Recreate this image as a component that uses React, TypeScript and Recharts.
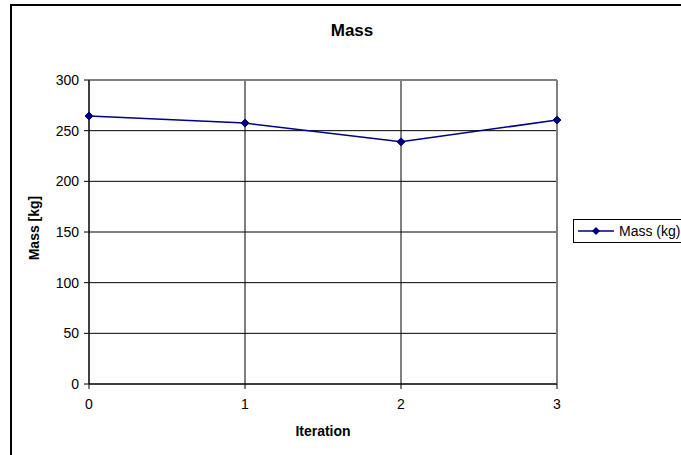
import {
  LineChart,
  Line,
  XAxis,
  YAxis,
  CartesianGrid,
  ReferenceLine,
  Label,
} from "recharts";

const iterations = [0, 1, 2, 3];
const massKg = [264.5, 257.5, 239, 260.5];
const yTicks = [0, 50, 100, 150, 200, 250, 300];

const data = iterations.map((it, i) => ({ iteration: it, mass: massKg[i] }));

const FONT = "Arial, 'Liberation Sans', sans-serif";
const NAVY = "#000080";

function Diamond(props: any) {
  const { cx, cy } = props;
  if (cx == null || cy == null) return null;
  const r = 4;
  return (
    <polygon
      points={`${cx},${cy - r} ${cx + r},${cy} ${cx},${cy + r} ${cx - r},${cy}`}
      fill={NAVY}
      stroke={NAVY}
    />
  );
}

function LegendBox() {
  return (
    <div
      style={{
        position: "absolute",
        left: 573,
        top: 219,
        border: "1px solid #000",
        width: 130,
        height: 22,
        display: "flex",
        alignItems: "center",
        fontFamily: FONT,
        fontSize: 14,
        background: "#fff",
      }}
    >
      <svg width={40} height={10} style={{ marginLeft: 4 }}>
        <line x1={0} y1={5} x2={36} y2={5} stroke={NAVY} strokeWidth={1.5} />
        <polygon points="18,1 22,5 18,9 14,5" fill={NAVY} />
      </svg>
      <span style={{ marginLeft: 1 }}>Mass (kg)</span>
    </div>
  );
}

function YTitle(props: any) {
  const { viewBox } = props;
  const x = viewBox.x + 6;
  const y = viewBox.y + viewBox.height / 2 - 4;
  return (
    <text
      x={x}
      y={y}
      transform={`rotate(-90 ${x} ${y})`}
      textAnchor="middle"
      dominantBaseline="central"
      fontFamily={FONT}
      fontSize={14}
      fontWeight="bold"
      fill="#000"
    >
      Mass [kg]
    </text>
  );
}

export default function App() {
  return (
    <div
      style={{
        position: "fixed",
        left: 0,
        top: 0,
        width: 681,
        height: 455,
        overflow: "hidden",
        background: "#fff",
      }}
    >
      {/* chart frame, runs past the right and bottom edge */}
      <div
        style={{
          position: "absolute",
          left: 10,
          top: 4,
          width: 700,
          height: 470,
          border: "1px solid #000",
          borderLeftWidth: 2,
          borderTopWidth: 2,
        }}
      />
      <div
        style={{
          position: "absolute",
          left: 0,
          top: 21,
          width: 704,
          textAlign: "center",
          fontFamily: FONT,
          fontSize: 17,
          lineHeight: "20px",
          fontWeight: "bold",
        }}
      >
        Mass
      </div>
      <div style={{ position: "absolute", left: 0, top: 0 }}>
        <LineChart
          width={681}
          height={455}
          data={data}
          margin={{ top: 80, right: 124, bottom: 0, left: 28 }}
        >
          <CartesianGrid stroke="#000" strokeWidth={1} />
          <XAxis
            dataKey="iteration"
            type="number"
            domain={[0, 3]}
            ticks={iterations}
            stroke="#000"
            tickSize={5}
            tick={{ fontFamily: FONT, fontSize: 14, fill: "#000" }}
            tickMargin={10}
            height={71}
          >
            <Label
              value="Iteration"
              position="insideTop"
              offset={42}
              style={{
                fontFamily: FONT,
                fontSize: 14,
                fontWeight: "bold",
                fill: "#000",
              }}
            />
          </XAxis>
          <YAxis
            type="number"
            domain={[0, 300]}
            ticks={yTicks}
            width={61}
            stroke="#000"
            tickSize={5}
            tickMargin={5}
            tick={{ fontFamily: FONT, fontSize: 14, fill: "#000" }}
          >
            <Label content={<YTitle />} />
          </YAxis>
          <ReferenceLine x={3} stroke="#808080" strokeWidth={2} />
          <ReferenceLine y={300} stroke="#808080" strokeWidth={2} />
          <Line
            dataKey="mass"
            name="Mass (kg)"
            type="linear"
            stroke={NAVY}
            strokeWidth={1.5}
            dot={<Diamond />}
            activeDot={false}
            isAnimationActive={false}
          />
        </LineChart>
      </div>
      <LegendBox />
    </div>
  );
}
